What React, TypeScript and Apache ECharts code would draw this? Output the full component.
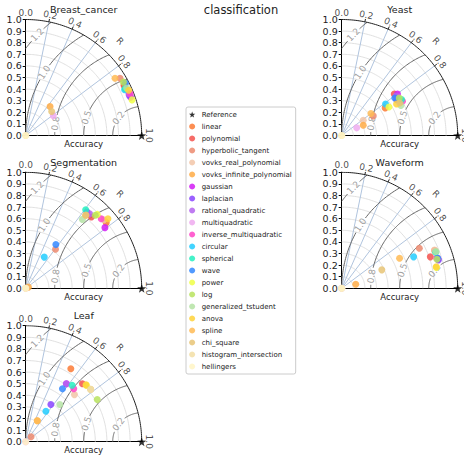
import React, { useEffect, useRef } from 'react';
import * as echarts from 'echarts';

const FONT = 'DejaVu Sans';

const SUPTITLE = 'classification';
const DATASETS = ['Breast_cancer', 'Yeast', 'Segmentation', 'Waveform', 'Leaf'];
const METHODS = [
  'linear', 'polynomial', 'hyperbolic_tangent', 'vovks_real_polynomial', 'vovks_infinite_polynomial',
  'gaussian', 'laplacian', 'rational_quadratic', 'multiquadratic', 'inverse_multiquadratic',
  'circular', 'spherical', 'wave', 'power', 'log', 'generalized_tstudent', 'anova', 'spline',
  'chi_square', 'histogram_intersection', 'hellingers',
];
const COLORS = [
  '#fb7a35', '#f5524e', '#ec8a6e', '#f2c6a8', '#ffab45',
  '#d21cf5', '#8a45ff', '#b464ee', '#eeaaee', '#ff45c8',
  '#22ccff', '#25f0c0', '#3388ff', '#f0ff45', '#b8e35e', '#b5e3a5', '#ffd23a', '#ffbb55',
  '#e8c476', '#f2dea4', '#fff4c4',
];

// projected Taylor coordinates [std*R, std*sqrt(1-R^2)] per method, in METHODS order
const breastCancer: number[][] = [
  [0.85, 0.44], [0.848, 0.43], [0.813, 0.494], [0.86, 0.4], [0.21, 0.25],
  [0.905, 0.33], [0.894, 0.345], [0.89, 0.36], [0.238, 0.17], [0.9, 0.36],
  [0.853, 0.394], [0.858, 0.405], [0.86, 0.45], [0.917, 0.307], [0.842, 0.46],
  [0.87, 0.41], [0.888, 0.39], [0.77, 0.494], [0.224, 0.207], [0, 0], [0, 0],
];
const yeast: number[][] = [
  [0.375, 0.238], [0.453, 0.358], [0.272, 0.169], [0.186, 0.132], [0.186, 0.089],
  [0.481, 0.358], [0.473, 0.31], [0.47, 0.34], [0.129, 0.066], [0.524, 0.295],
  [0.378, 0.272], [0.516, 0.31], [0.458, 0.324], [0.407, 0.246], [0.496, 0.324],
  [0.51, 0.258], [0.473, 0.272], [0.252, 0.189], [0.5, 0.28], [0, 0], [0, 0],
];
const segmentation: number[][] = [
  [0.694, 0.566], [0.566, 0.614], [0.257, 0.337], [0.674, 0.591], [0.023, 0.01],
  [0.683, 0.523], [0.529, 0.657], [0.551, 0.643], [0, 0], [0.651, 0.6],
  [0.16, 0.269], [0.517, 0.677], [0.26, 0.377], [0.617, 0.637], [0.6, 0.63],
  [0.489, 0.594], [0.709, 0.6], [0.517, 0.629], [0.52, 0.632], [0, 0], [0, 0],
];
const waveform: number[][] = [
  [0.801, 0.326], [0.764, 0.271], [0.669, 0.346], [0.8, 0.33], [0.121, 0.035],
  [0.83, 0.25], [0.833, 0.245], [0.825, 0.26], [0, 0], [0.82, 0.26],
  [0.62, 0.271], [0.81, 0.31], [0.827, 0.259], [0.816, 0.179], [0.821, 0.251],
  [0.813, 0.317], [0.815, 0.185], [0.499, 0.259], [0.346, 0.159], [0, 0], [0, 0],
];
const leaf: number[][] = [
  [0.389, 0.629], [0.489, 0.5], [0.046, 0.043], [0.42, 0.406], [0.1, 0.18],
  [0.351, 0.5], [0.217, 0.32], [0.35, 0.5], [0, 0], [0.414, 0.457],
  [0.174, 0.263], [0.4, 0.486], [0.317, 0.457], [0.523, 0.486], [0.617, 0.363],
  [0.294, 0.32], [0.52, 0.49], [0.1, 0.18], [0.56, 0.451], [0.56, 0.451], [0, 0],
];
const ALL_DATA = [breastCancer, yeast, segmentation, waveform, leaf];

const REFERENCE = [1, 0];
const CORR_TICKS = [0, 0.2, 0.4, 0.6, 0.8, 1.0];
const RADIAL_LINES = [0.2, 0.4, 0.6, 0.8];
const STD_CIRCLES = [0.1, 0.2, 0.3, 0.4, 0.5, 0.6, 0.7, 0.8, 0.9];
const RMS_LEVELS = [0.25, 0.5, 0.75, 1.0, 1.25];
const RMS_LABELS = ['0.2', '0.5', '0.8', '1.0', '1.2'];
const RMS_LABEL_ANGLES = [143, 162, 172, 147, 136];

const SIZE = 116;
const GRID_LT = [[25.7, 19.5], [341.7, 19.5], [25.7, 172.3], [341.7, 172.3], [25.7, 325.7]];

const STAR = 'path://M0,-10L2.35,-3.24L9.51,-3.09L3.8,1.24L5.88,8.09L0,4L-5.88,8.09L-3.8,1.24L-9.51,-3.09L-2.35,-3.24Z';

const rad = (d: number) => (d * Math.PI) / 180;
function arc(cx: number, cy: number, r: number, a0: number, a1: number) {
  const pts: number[][] = [];
  const n = Math.max(8, Math.ceil(Math.abs(a1 - a0)));
  for (let i = 0; i <= n; i++) {
    const a = rad(a0 + ((a1 - a0) * i) / n);
    pts.push([cx + r * Math.cos(a), cy + r * Math.sin(a)]);
  }
  return pts;
}

function buildOption() {
  const grids = GRID_LT.map(([l, t]) => ({ left: l, top: t, width: SIZE, height: SIZE }));
  const xAxis = grids.map((_, i) => ({
    type: 'value', gridIndex: i, min: 0, max: 1, interval: 0.1,
    axisLine: { show: true, lineStyle: { color: '#000', width: 1 } },
    axisTick: { show: false }, axisLabel: { show: false }, splitLine: { show: false },
    name: 'Accuracy', nameLocation: 'middle', nameGap: 4,
    nameTextStyle: { fontSize: 8.5, color: '#222', fontFamily: FONT, verticalAlign: 'top' },
  }));
  const yAxis = grids.map((_, i) => ({
    type: 'value', gridIndex: i, min: 0, max: 1, interval: 0.1,
    axisLine: { show: true, lineStyle: { color: '#000', width: 1 } },
    axisTick: { show: true, length: 3, lineStyle: { color: '#000' } },
    axisLabel: { fontSize: 9.5, color: '#222', fontFamily: FONT, margin: 4, formatter: (v: number) => v.toFixed(1) },
    splitLine: { show: false },
  }));

  const series: any[] = [];
  const graphic: any[] = [
    { type: 'text', x: 241, y: 10, style: { text: SUPTITLE, fontSize: 11.5, fill: '#222', fontFamily: FONT, align: 'center', verticalAlign: 'middle' } },
  ];

  grids.forEach((g, i) => {
    const ax = { xAxisIndex: i, yAxisIndex: i };
    graphic.push({
      type: 'text', x: g.left + SIZE / 2, y: g.top - 10,
      style: { text: DATASETS[i], fontSize: 9.5, fill: '#222', fontFamily: FONT, align: 'center', verticalAlign: 'middle' },
    });
    series.push({
      type: 'lines', coordinateSystem: 'cartesian2d', ...ax, polyline: true, silent: true, z: 1,
      lineStyle: { color: '#dcdcdc', width: 0.9, opacity: 1 },
      data: STD_CIRCLES.map((r) => ({ coords: arc(0, 0, r, 0, 90) })),
    });
    series.push({
      type: 'lines', coordinateSystem: 'cartesian2d', ...ax, polyline: true, silent: true, z: 1,
      lineStyle: { color: '#b0c4de', width: 1, opacity: 1 },
      data: RADIAL_LINES.map((c) => ({ coords: [[0, 0], [c, Math.sqrt(1 - c * c)]] })),
    });
    const contourSegs: any[] = [];
    const contourLabels: any[] = [];
    RMS_LEVELS.forEach((L, k) => {
      const aMin = (Math.acos(-L / 2) * 180) / Math.PI;
      const aMax = L <= 1 ? 180 : (Math.acos(-1 / L) * 180) / Math.PI;
      const aL = RMS_LABEL_ANGLES[k];
      const gap = ((0.075 / L) * 180) / Math.PI;
      contourSegs.push({ coords: arc(1, 0, L, aMin, aL - gap) });
      contourSegs.push({ coords: arc(1, 0, L, aL + gap, aMax) });
      contourLabels.push({
        value: [1 + L * Math.cos(rad(aL)), L * Math.sin(rad(aL))],
        label: { formatter: RMS_LABELS[k], rotate: aL - 90 },
      });
    });
    series.push({
      type: 'lines', coordinateSystem: 'cartesian2d', ...ax, polyline: true, silent: true, z: 2,
      lineStyle: { color: '#666', width: 1, opacity: 1 },
      data: contourSegs,
    });
    const outer: any[] = [{ coords: arc(0, 0, 1, 0, 90) }];
    CORR_TICKS.forEach((c) => {
      const s = Math.sqrt(1 - c * c);
      outer.push({ coords: [[c, s], [c * 1.025, s * 1.025]] });
    });
    series.push({
      type: 'lines', coordinateSystem: 'cartesian2d', ...ax, polyline: true, silent: true, z: 3,
      lineStyle: { color: '#222', width: 1, opacity: 1 },
      data: outer,
    });
    series.push({
      type: 'scatter', ...ax, silent: true, clip: false, symbolSize: 1, z: 3,
      itemStyle: { color: 'rgba(0,0,0,0)' },
      label: { show: true, position: 'inside', fontSize: 9, color: '#888', fontFamily: FONT },
      data: contourLabels,
    });
    const corrLabels: any[] = CORR_TICKS.map((c) => {
      const th = Math.acos(c);
      return {
        value: [1.06 * Math.cos(th), 1.06 * Math.sin(th)],
        label: { formatter: c.toFixed(1), rotate: (th * 180) / Math.PI - 90 },
      };
    });
    const thR = Math.acos(0.707);
    corrLabels.push({ value: [1.15 * Math.cos(thR), 1.15 * Math.sin(thR)], label: { formatter: 'R', rotate: (thR * 180) / Math.PI - 90 } });
    series.push({
      type: 'scatter', ...ax, silent: true, clip: false, symbolSize: 1, z: 3,
      itemStyle: { color: 'rgba(0,0,0,0)' },
      label: { show: true, position: 'inside', fontSize: 9, color: '#222', fontFamily: FONT },
      data: corrLabels,
    });
    METHODS.forEach((m, k) => {
      series.push({
        type: 'scatter', name: m, ...ax, clip: false, symbol: 'circle', symbolSize: 7, z: 5,
        itemStyle: { color: COLORS[k], opacity: 0.85 },
        data: [ALL_DATA[i][k]],
      });
    });
    series.push({
      type: 'scatter', name: 'Reference', ...ax, clip: false, symbol: STAR, symbolSize: 9, z: 6,
      itemStyle: { color: '#000' },
      data: [REFERENCE],
    });
  });

  return {
    animation: false,
    backgroundColor: '#fff',
    grid: grids,
    xAxis,
    yAxis,
    series,
    graphic,
    legend: {
      data: [{ name: 'Reference', icon: STAR }, ...METHODS.map((n) => ({ name: n, icon: 'circle' }))],
      orient: 'vertical', left: 186, top: 107, itemWidth: 9, itemHeight: 6, itemGap: 5,
      padding: [4, 4, 4, 3], borderColor: '#ccc', borderWidth: 1, borderRadius: 2,
      selectedMode: false,
      textStyle: { fontSize: 7, color: '#222', fontFamily: FONT, lineHeight: 6 },
    },
  };
}

export default function App() {
  const ref = useRef<HTMLDivElement>(null);
  useEffect(() => {
    const chart = echarts.init(ref.current!, null, { renderer: 'svg' });
    chart.setOption(buildOption() as any);
    return () => chart.dispose();
  }, []);
  return (
    <div
      ref={ref}
      style={{ position: 'fixed', left: 0, top: 0, width: 464, height: 458, background: '#fff' }}
    />
  );
}
